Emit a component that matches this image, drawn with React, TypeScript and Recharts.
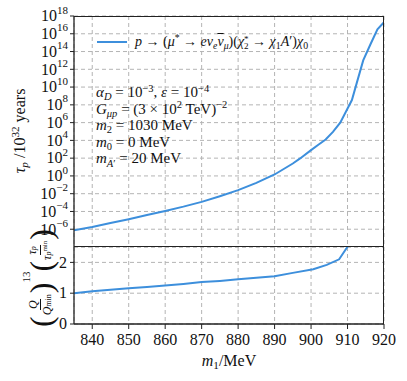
import React from "react";
import { LineChart, Line, XAxis, YAxis, CartesianGrid } from "recharts";

// top panel: lifetime (log scale)
const m1Top = [835, 840, 845, 850, 855, 860, 865, 870, 875, 880, 885, 890, 895, 897, 900, 902, 904, 906, 908, 911.2, 912.5, 914.3, 916.2, 918.2, 920];
const tauTop = [7.8e-7, 1.8e-6, 5e-6, 1.35e-5, 4e-5, 1.15e-4, 3.5e-4, 1.2e-3, 5.2e-3, 2.5e-2, 0.166, 1.45, 25, 93, 800, 3.2e3, 1.26e4, 9e4, 1e6, 3.5e8, 2.6e10, 1e13, 5.4e14, 3.2e16, 2e17];

// bottom panel: scaled ratio
const m1Ratio = [835, 840, 845, 850, 855, 860, 865, 870, 875, 880, 885, 890, 895, 900.6, 904.3, 907.7, 909.9, 912];
const ratio = [1.0, 1.06, 1.11, 1.16, 1.2, 1.25, 1.3, 1.36, 1.4, 1.45, 1.5, 1.55, 1.66, 1.78, 1.92, 2.1, 2.49, 2.95];

const xTicks = [840, 850, 860, 870, 880, 890, 900, 910, 920];
const tauExponents = [-6, -4, -2, 0, 2, 4, 6, 8, 10, 12, 14, 16, 18];
const ratioTicks = [0, 1, 2];

const topData = m1Top.map((m, i) => ({ m1: m, tau: tauTop[i] }));
const bottomData = m1Ratio.map((m, i) => ({ m1: m, ratio: ratio[i] }));
const tauTicks = tauExponents.map((e) => Math.pow(10, e));

const BLUE = "#3d8fdc";
const FRAME = "#222";
const GRID = "#b4b4b4";
const FONT = "'Liberation Serif', serif";

const Sup = ({ children }: any) => (
  <span style={{ fontSize: "0.7em", position: "relative", top: "-0.5em", lineHeight: 0 }}>{children}</span>
);
const Sub = ({ children }: any) => (
  <span style={{ fontSize: "0.7em", position: "relative", top: "0.3em", lineHeight: 0 }}>{children}</span>
);

const LogTick = ({ x, y, payload }: any) => {
  const e = Math.round(Math.log10(payload.value));
  return (
    <text x={x} y={y} textAnchor="end" fill="#111" fontFamily={FONT} fontSize={16}>
      <tspan dy="0.33em">10</tspan>
      <tspan dy="-0.7em" fontSize={11}>{e < 0 ? `\u2212${-e}` : e}</tspan>
    </text>
  );
};

const NumTick = ({ x, y, payload, anchor }: any) => (
  <text
    x={x}
    y={y}
    dy={anchor === "middle" ? "0.75em" : "0.33em"}
    textAnchor={anchor}
    fill="#111"
    fontFamily={FONT}
    fontSize={16}
  >
    {payload.value}
  </text>
);

const EmptyTick = () => <g />;

const Frac = ({ num, den }: any) => (
  <span style={{ display: "inline-flex", flexDirection: "column", alignItems: "center", verticalAlign: "middle", fontSize: 12, lineHeight: "13px", margin: "0 1px" }}>
    <span style={{ borderBottom: "0.8px solid #111", padding: "0 1px" }}>{num}</span>
    <span>{den}</span>
  </span>
);

const frameLine = { stroke: FRAME, strokeWidth: 1.3 };

export default function App() {
  return (
    <div style={{ position: "absolute", left: 0, top: 0, width: 407, height: 381, background: "#fff", fontFamily: FONT, color: "#111" }}>
      <div style={{ position: "absolute", left: 0, top: 0 }}>
        <LineChart width={407} height={248} data={topData} margin={{ top: 16, right: 23, bottom: 0, left: 0 }}>
          <CartesianGrid stroke={GRID} strokeDasharray="4 3" strokeWidth={1} />
          <XAxis
            dataKey="m1"
            type="number"
            domain={[835, 920]}
            ticks={xTicks}
            interval={0}
            allowDataOverflow
            height={1}
            tick={<EmptyTick />}
            tickLine={false}
            axisLine={false}
          />
          <YAxis
            scale="log"
            domain={[1e-8, 1e18]}
            allowDataOverflow
            ticks={tauTicks}
            interval={0}
            width={74}
            tick={<LogTick />}
            tickSize={4}
            tickMargin={2}
            tickLine={{ stroke: FRAME }}
            axisLine={frameLine}
          />
          <Line dataKey="tau" stroke={BLUE} strokeWidth={2} dot={false} isAnimationActive={false} />
        </LineChart>
      </div>

      <div style={{ position: "absolute", left: 0, top: 247 }}>
        <LineChart width={407} height={134} data={bottomData} margin={{ top: 0, right: 23, bottom: 0, left: 0 }}>
          <CartesianGrid stroke={GRID} strokeDasharray="4 3" strokeWidth={1} />
          <XAxis
            dataKey="m1"
            type="number"
            domain={[835, 920]}
            ticks={xTicks}
            interval={0}
            allowDataOverflow
            height={57}
            tick={<NumTick anchor="middle" />}
            tickSize={5}
            tickMargin={4}
            tickLine={{ stroke: FRAME }}
            axisLine={frameLine}
          />
          <YAxis
            domain={[0, 2.5]}
            allowDataOverflow
            ticks={ratioTicks}
            interval={0}
            width={74}
            tick={<NumTick anchor="end" />}
            tickSize={4}
            tickMargin={3}
            tickLine={{ stroke: FRAME }}
            axisLine={frameLine}
          />
          <Line dataKey="ratio" stroke={BLUE} strokeWidth={2} dot={false} isAnimationActive={false} />
        </LineChart>
      </div>

      {/* axes frames */}
      <div style={{ position: "absolute", left: 74, top: 16, width: 310, height: 231, boxSizing: "border-box", borderTop: `1.3px solid ${FRAME}`, borderRight: `1.3px solid ${FRAME}`, borderBottom: `1.3px solid ${FRAME}`, pointerEvents: "none" }} />
      <div style={{ position: "absolute", left: 74, top: 247, width: 310, height: 77, boxSizing: "border-box", borderRight: `1.3px solid ${FRAME}`, pointerEvents: "none" }} />

      {/* legend */}
      <div style={{ position: "absolute", left: 97, top: 34, display: "flex", alignItems: "center", whiteSpace: "nowrap", fontSize: 14 }}>
        <span style={{ display: "inline-block", width: 30, height: 2, background: BLUE, marginRight: 8 }} />
        <span>
          <i>p</i> → (<i>μ</i>
          <Sup>*</Sup> → <i>eν</i>
          <Sub><i>e</i></Sub>
          <span style={{ textDecoration: "overline" }}><i>ν</i></span>
          <Sub><i>μ</i></Sub>)(<i>χ</i>
          <span style={{ display: "inline-flex", flexDirection: "column", fontSize: "0.65em", lineHeight: "0.8em", verticalAlign: "middle" }}>
            <span>*</span>
            <span>2</span>
          </span>{" "}
          → <i>χ</i>
          <Sub>1</Sub>
          <i>A</i>′)<i>χ</i>
          <Sub>0</Sub>
        </span>
      </div>

      {/* parameters */}
      <div style={{ position: "absolute", left: 96, top: 84, fontSize: 15, lineHeight: "16.6px", whiteSpace: "nowrap" }}>
        <div>
          <i>α</i><Sub><i>D</i></Sub> = 10<Sup>−3</Sup>, <i>ε</i> = 10<Sup>−4</Sup>
        </div>
        <div>
          <i>G</i><Sub><i>μp</i></Sub> = (3 × 10<Sup>2</Sup> TeV)<Sup>−2</Sup>
        </div>
        <div>
          <i>m</i><Sub>2</Sub> = 1030 MeV
        </div>
        <div>
          <i>m</i><Sub>0</Sub> = 0 MeV
        </div>
        <div>
          <i>m</i><Sub><i>A</i>′</Sub> = 20 MeV
        </div>
      </div>

      {/* y label top */}
      <div style={{ position: "absolute", left: 20, top: 131, transform: "translate(-50%, -50%) rotate(-90deg)", whiteSpace: "nowrap", fontSize: 16 }}>
        <i>τ</i><Sub><i>p</i></Sub> /10<Sup>32</Sup> years
      </div>

      {/* y label bottom */}
      <div style={{ position: "absolute", left: 41, top: 278, transform: "translate(-50%, -50%) rotate(-90deg)", whiteSpace: "nowrap", display: "flex", alignItems: "center" }}>
        <span style={{ fontSize: 32, lineHeight: "30px" }}>(</span>
        <Frac num={<i>Q</i>} den={<span><i>Q</i><span style={{ fontSize: 8 }}>min</span></span>} />
        <span style={{ fontSize: 32, lineHeight: "30px" }}>)</span>
        <span style={{ fontSize: 11, alignSelf: "flex-start", marginTop: -6 }}>13</span>
        <span style={{ fontSize: 32, lineHeight: "30px" }}>(</span>
        <Frac
          num={<span><i>τ</i><span style={{ fontSize: 8 }}><i>p</i></span></span>}
          den={<span><i>τ</i><span style={{ fontSize: 8 }}><i>p</i></span><span style={{ fontSize: 7, position: "relative", top: -4 }}>min</span></span>}
        />
        <span style={{ fontSize: 32, lineHeight: "30px" }}>)</span>
      </div>

      {/* x label */}
      <div style={{ position: "absolute", left: 229, top: 361, transform: "translate(-50%, -50%)", whiteSpace: "nowrap", fontSize: 16 }}>
        <i>m</i><Sub>1</Sub>/MeV
      </div>
    </div>
  );
}
